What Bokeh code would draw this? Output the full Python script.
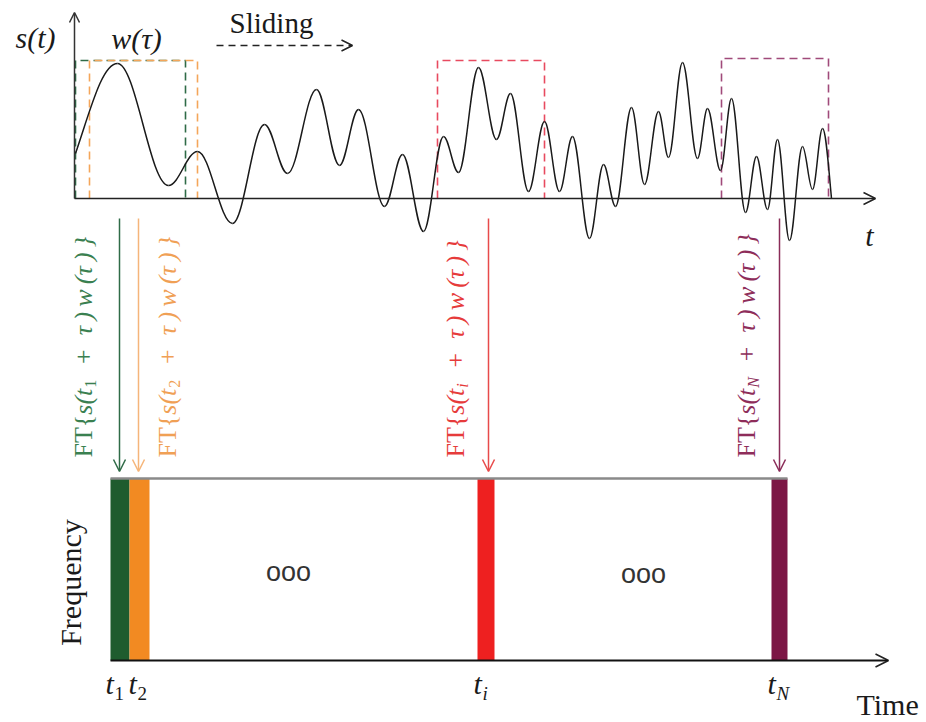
import math
from bokeh.plotting import figure
from bokeh.models import Range1d, Arrow, OpenHead
from bokeh.core.properties import value
from bokeh.embed import file_html
from bokeh.resources import INLINE

# ---------------- data ----------------
# signal s(t): local extrema (time, amplitude above the t axis)
sig_t = [75, 117, 168, 197, 232, 264, 287, 316, 339, 358, 384, 402, 423, 443, 458,
         478, 496, 510, 528, 544, 559, 572, 589, 603, 615, 631, 644, 658, 668, 682,
         697, 707, 720, 731, 745, 756, 767, 777, 789, 802, 812, 822, 831]
sig_s = [45, 135, 13, 47, -25, 74, 25, 109, 33, 89, -8, 44, -33, 62, 26,
         131, 59, 105, 7, 77, 7, 62, -40, 34, -8, 91, 14, 87, 41, 136,
         40, 90, 28, 100, -14, 42, -11, 59, -42, 52, 9, 70, 0]

# sliding windows w(tau) at t1, t2, ti, tN
win_sub = ["1", "2", "i", "N"]
win_start = [75, 89, 437, 721]
win_end = [185, 197, 544, 828]
win_height = [138, 138, 138, 140]

# spectrogram columns in the time-frequency plane
col_start = [110, 129, 477, 771]
col_end = [129, 149, 494, 787]

# ---------------- styles / layout ----------------
col_colors = ["#1e5c2e", "#f28a22", "#ee2020", "#7c1645"]
win_colors = ["#2f6b47", "#f4a65a", "#e84a5f", "#a04a7a"]
txt_colors = ["#3a8050", "#f0a055", "#e63b3b", "#8e2d5a"]
arr_colors = ["#2f6b47", "#f5b57a", "#e84a4a", "#8a2c58"]
arrow_x = [119, 138, 488, 779]
label_x = [84, 168, 456, 747]

W, H = 926, 722
BASE = 198
SPEC_TOP, SPEC_BOT = 478, 660
SERIF = "Liberation Serif"
INK = "#1a1a1a"
SHIFT = 0.32   # baseline correction (fraction of font size)

p = figure(width=W, height=H, x_range=Range1d(0, W), y_range=Range1d(H, 0),
           output_backend="svg", toolbar_location=None,
           x_axis_type=None, y_axis_type=None, min_border=0)
p.outline_line_color = None
p.grid.visible = False
p.background_fill_color = "white"
p.extra_y_ranges = {"sig": Range1d(start=BASE - H, end=BASE)}


def txt(x, y, s, size, color=INK, font=SERIF, style="normal", align="left",
        baseline="alphabetic", angle=0.0):
    if angle == 0.0:
        y = y - SHIFT * size
    else:
        x = x - SHIFT * size
    p.text(x=[x], y=[y], text=[s], text_font=value(font),
           text_font_size=value(f"{size}px"), text_font_style=value(style),
           text_color=color, text_align=align, text_baseline=baseline, angle=angle)


# ---------------- top panel: signal ----------------
k = 0.3634
x0, x1 = sig_t[:-1], sig_t[1:]
y0, y1 = sig_s[:-1], sig_s[1:]
cx0 = [a + k * (b - a) for a, b in zip(x0, x1)]
cx1 = [b - k * (b - a) for a, b in zip(x0, x1)]
cy0 = list(y0)
cy1 = list(y1)
cy0[0] = y0[0] + 0.5 * (y1[0] - y0[0])
cy1[-1] = y1[-1] + 0.5 * (y0[-1] - y1[-1])

for i in range(4):
    p.line([win_start[i], win_start[i], win_end[i], win_end[i]],
           [0, win_height[i], win_height[i], 0], y_range_name="sig",
           line_color=win_colors[i], line_width=1.6, line_dash="8 5")

p.bezier(x0=x0, y0=y0, x1=x1, y1=y1, cx0=cx0, cy0=cy0, cx1=cx1, cy1=cy1,
         y_range_name="sig", line_color=INK, line_width=1.5)

p.add_layout(Arrow(end=OpenHead(size=12, line_color="#222222", line_width=1.5),
                   x_start=74, y_start=0, x_end=875, y_end=0, y_range_name="sig",
                   line_color="#222222", line_width=1.6))
p.add_layout(Arrow(end=OpenHead(size=10, line_color="#333333", line_width=1.5),
                   x_start=74, y_start=0, x_end=74, y_end=BASE - 12, y_range_name="sig",
                   line_color="#333333", line_width=1.5))
p.add_layout(Arrow(end=OpenHead(size=11, line_color="#222222", line_width=1.5),
                   x_start=216, y_start=45, x_end=352, y_end=45,
                   line_color="#222222", line_width=1.5, line_dash="7 5"))

txt(35, 47, "s(t)", 30, style="italic", align="center")
txt(136, 48, "w(τ)", 30, style="italic", align="center")
txt(271, 32, "Sliding", 29, align="center")
txt(869, 245, "t", 30, style="italic", align="center")

# ---------------- FT labels and arrows ----------------
FT_SIZE, SUB_SIZE = 26, 16
sub_w = {"1": 0.5, "2": 0.5, "i": 0.278, "N": 0.667}
TAIL = "\u2002+\u2002τ\u2009)\u2009w\u2009(τ\u2009)\u2009}"
for i in range(4):
    p.add_layout(Arrow(end=OpenHead(size=12, line_color=arr_colors[i], line_width=1.5),
                       x_start=arrow_x[i], y_start=218, x_end=arrow_x[i], y_end=471,
                       line_color=arr_colors[i], line_width=1.5))
    bx = label_x[i] + 7
    yy = 457
    c = txt_colors[i]
    txt(bx, yy, "FT{", FT_SIZE, color=c, angle=math.pi / 2)
    yy -= 1.647 * FT_SIZE
    txt(bx, yy, "s(t", FT_SIZE, color=c, style="italic", angle=math.pi / 2)
    yy -= 1.0 * FT_SIZE + 1
    s = win_sub[i]
    txt(bx + 4, yy, s, SUB_SIZE, color=c,
        style=("normal" if s.isdigit() else "italic"), angle=math.pi / 2)
    yy -= sub_w[s] * SUB_SIZE + 1
    txt(bx, yy, TAIL, FT_SIZE, color=c, style="italic", angle=math.pi / 2)

# ---------------- bottom panel: time-frequency plane ----------------
p.quad(left=col_start, right=col_end, top=SPEC_TOP, bottom=SPEC_BOT,
       fill_color=col_colors, line_color=None)
p.line([col_start[0], col_end[-1]], [SPEC_TOP, SPEC_TOP], line_color="#8a8a8a", line_width=2.5)
p.add_layout(Arrow(end=OpenHead(size=13, line_color="#222222", line_width=1.6),
                   x_start=col_start[0], y_start=SPEC_BOT, x_end=888, y_end=SPEC_BOT,
                   line_color="#111111", line_width=2))

p.text(x=[288, 643], y=[571, 573], text=["ooo", "ooo"], text_font=value("Liberation Sans"),
       text_font_size="27px", text_color="#333333", text_align="center",
       text_baseline="middle")
txt(80, 582, "Frequency", 30, align="center", angle=math.pi / 2)

t_left = [105, 128, 473, 767]
for i in range(4):
    txt(t_left[i], 693, "t", 30, style="italic")
    s = win_sub[i]
    txt(t_left[i] + 9, 699, s, 19, style=("normal" if s.isdigit() else "italic"))
txt(856, 714, "Time", 30)

open("out.html", "w").write(file_html(p, INLINE))
